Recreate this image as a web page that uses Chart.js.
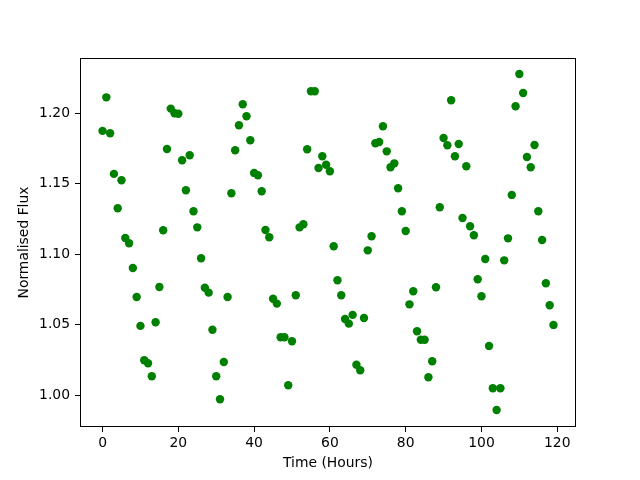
<!DOCTYPE html>
<html>
<head>
<meta charset="utf-8">
<script src="https://cdn.jsdelivr.net/npm/chart.js@4/dist/chart.umd.min.js"></script>
<style>
  body { margin: 0; background: #fff; }
</style>
</head>
<body>
<canvas id="fluxChart" width="640" height="480"></canvas>
<script>
// one reading per hour, t = 0..119
const hours = Array.from({ length: 120 }, (_, i) => i);

const flux = [
  1.1875, 1.2113, 1.1858, 1.1570, 1.1326, 1.1525, 1.1116, 1.1078, 1.0903, 1.0697,
  1.0492, 1.0248, 1.0227, 1.0135, 1.0518, 1.0768, 1.1170, 1.1747, 1.2033, 1.2000,
  1.1997, 1.1667, 1.1454, 1.1702, 1.1305, 1.1191, 1.0972, 1.0763, 1.0728, 1.0465,
  1.0135, 0.9972, 1.0236, 1.0697, 1.1433, 1.1738, 1.1915, 1.2064, 1.1979, 1.1809,
  1.1577, 1.1560, 1.1447, 1.1172, 1.1121, 1.0685, 1.0650, 1.0411, 1.0411, 1.0071,
  1.0383, 1.0709, 1.1191, 1.1213, 1.1745, 1.2156, 1.2156, 1.1612, 1.1695, 1.1635,
  1.1589, 1.1057, 1.0816, 1.0709, 1.0541, 1.0508, 1.0570, 1.0217, 1.0177, 1.0548,
  1.1028, 1.1128, 1.1787, 1.1796, 1.1908, 1.1730, 1.1617, 1.1645, 1.1468, 1.1305,
  1.1165, 1.0645, 1.0738, 1.0454, 1.0394, 1.0394, 1.0128, 1.0241, 1.0766, 1.1333,
  1.1825, 1.1773, 1.2092, 1.1695, 1.1782, 1.1257, 1.1624, 1.1199, 1.1135, 1.0823,
  1.0702, 1.0967, 1.0350, 1.0050, 0.9896, 1.0050, 1.0957, 1.1113, 1.1421, 1.2050,
  1.2279, 1.2144, 1.1690, 1.1617, 1.1775, 1.1305, 1.1101, 1.0794, 1.0638, 1.0499,
];

const xTicks = [0, 20, 40, 60, 80, 100, 120];
const yTicks = [1.0, 1.05, 1.1, 1.15, 1.2];

const FONT = { family: "'DejaVu Sans', sans-serif", size: 13.9 };

// matplotlib style closed box around the plot area
const frameBox = {
  id: "frameBox",
  afterDraw(chart) {
    const { ctx, chartArea: a } = chart;
    ctx.save();
    ctx.strokeStyle = "#000";
    ctx.lineWidth = 1;
    ctx.strokeRect(a.left + 0.5, a.top + 0.5, a.right - a.left - 1, a.bottom - a.top - 1);
    ctx.restore();
  },
};

new Chart(document.getElementById("fluxChart"), {
  type: "scatter",
  data: {
    datasets: [
      {
        data: hours.map((h, i) => ({ x: h, y: flux[i] })),
        backgroundColor: "#008000",
        borderColor: "#008000",
        borderWidth: 0,
        pointRadius: 4.2,
        pointHoverRadius: 4.2,
      },
    ],
  },
  options: {
    responsive: false,
    animation: false,
    layout: { padding: { top: 58, right: 64, left: 0, bottom: 0 } },
    plugins: {
      legend: { display: false },
      tooltip: { enabled: false },
    },
    scales: {
      x: {
        type: "linear",
        min: -5.95,
        max: 124.95,
        afterBuildTicks: (axis) => {
          axis.ticks = xTicks.map((v) => ({ value: v }));
        },
        afterFit: (axis) => {
          axis.height = 53;
        },
        grid: {
          drawOnChartArea: false,
          drawTicks: true,
          tickLength: 5,
          tickColor: "#000",
        },
        border: { display: false },
        ticks: {
          color: "#000",
          font: FONT,
          padding: 3,
          maxRotation: 0,
        },
        title: {
          display: true,
          text: "Time (Hours)",
          color: "#000",
          font: FONT,
          padding: { top: 0, bottom: 8 },
        },
      },
      y: {
        type: "linear",
        min: 0.9775,
        max: 1.2392,
        afterBuildTicks: (axis) => {
          axis.ticks = yTicks.map((v) => ({ value: v }));
        },
        afterFit: (axis) => {
          axis.width = 80;
        },
        grid: {
          drawOnChartArea: false,
          drawTicks: true,
          tickLength: 5,
          tickColor: "#000",
        },
        border: { display: false },
        ticks: {
          color: "#000",
          font: FONT,
          padding: 5,
          callback: (v) => v.toFixed(2),
        },
        title: {
          display: true,
          text: "Normalised Flux",
          color: "#000",
          font: FONT,
          padding: { top: 16, bottom: 0 },
        },
      },
    },
  },
  plugins: [frameBox],
});
</script>
</body>
</html>
